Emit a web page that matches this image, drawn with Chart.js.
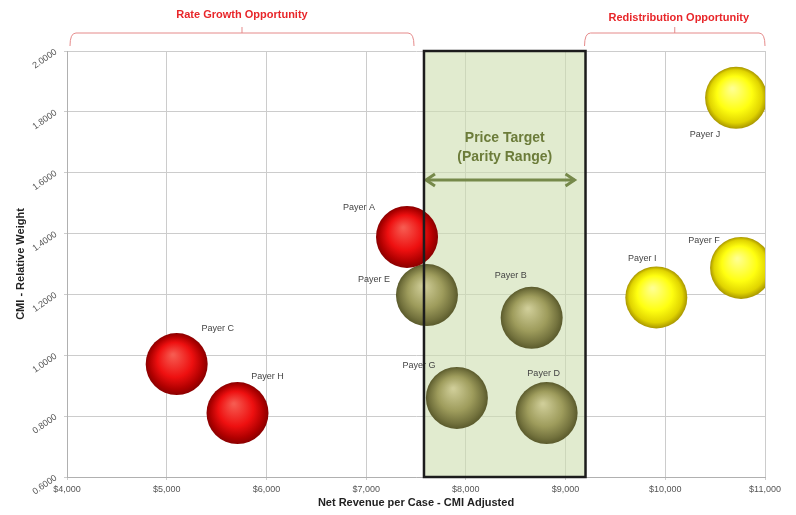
<!DOCTYPE html>
<html>
<head>
<meta charset="utf-8">
<script src="https://cdn.jsdelivr.net/npm/chart.js@4/dist/chart.umd.min.js"></script>
<style>
  html, body { margin: 0; padding: 0; background: #fff; }
  #wrap { width: 796px; height: 515px; }
</style>
</head>
<body>
<div id="wrap"><canvas id="myChart" width="796" height="515"></canvas></div>
<script>
// payers
const payers  = ['Payer A', 'Payer B', 'Payer C', 'Payer D', 'Payer E', 'Payer F', 'Payer G', 'Payer H', 'Payer I', 'Payer J'];
const revenue = [7410, 8660, 5100, 8810, 7610, 10760, 7910, 5710, 9910, 10710];
const cmi     = [1.389, 1.123, 0.971, 0.810, 1.198, 1.287, 0.860, 0.810, 1.190, 1.846];
const groups  = ['Rate Growth', 'Parity', 'Rate Growth', 'Parity', 'Parity', 'Redistribution', 'Parity', 'Rate Growth', 'Redistribution', 'Redistribution'];

// axis ranges
const xRange = [4000, 11000];
const yRange = [0.6, 2.0];

// annotation ranges (in data units)
const parityRange = [7580, 9200];
const parityArrow = [7580, 9090, 1.576];
const rateGrowthBrace = [4030, 7480];
const redistributionBrace = [9190, 11000];

// where each payer name sits relative to its bubble (pixels)
const labelOffsets = {
  'Payer A': [-48, -29], 'Payer B': [-21, -42], 'Payer C': [41, -36],
  'Payer D': [-3, -40],  'Payer E': [-53, -16], 'Payer F': [-37, -27],
  'Payer G': [-38, -32], 'Payer H': [30, -37],  'Payer I': [-14, -39],
  'Payer J': [-31, 37]
};

const BUBBLE_R = 31;
const FONT = '"Liberation Sans", Arial, sans-serif';

// highlight, body, shade, rim
const sphereColors = {
  'Rate Growth':    ['#f65a50', '#ee1010', '#b00000', '#8a0000'],
  'Parity':         ['#cfcd98', '#9e9c5c', '#74733e', '#5a5a2c'],
  'Redistribution': ['#ffff90', '#ffff10', '#e0d400', '#a89600']
};

function sphere(colors) {
  return function (ctx) {
    if (ctx.type !== 'data' || !ctx.parsed) return colors[1];
    const chart = ctx.chart;
    if (!chart.scales.x || !chart.scales.y) return colors[1];
    const x = chart.scales.x.getPixelForValue(ctx.parsed.x);
    const y = chart.scales.y.getPixelForValue(ctx.parsed.y);
    if (!isFinite(x) || !isFinite(y)) return colors[1];
    const r = BUBBLE_R;
    const g = chart.ctx.createRadialGradient(x - r * 0.12, y - r * 0.3, 1, x, y, r);
    g.addColorStop(0, colors[0]);
    g.addColorStop(0.55, colors[1]);
    g.addColorStop(0.85, colors[2]);
    g.addColorStop(1, colors[3]);
    return g;
  };
}

const datasets = [];
Object.keys(sphereColors).forEach(function (grp) {
  const pts = [];
  for (let i = 0; i < payers.length; i++) {
    if (groups[i] === grp) pts.push({ x: revenue[i], y: cmi[i], name: payers[i] });
  }
  datasets.push({
    label: grp,
    data: pts,
    radius: BUBBLE_R,
    borderWidth: 0,
    backgroundColor: sphere(sphereColors[grp]),
    clip: 0
  });
});

function drawBrace(ctx, x1, x2, y) {
  const mid = (x1 + x2) / 2;
  ctx.beginPath();
  ctx.moveTo(x1, y + 13);
  ctx.quadraticCurveTo(x1, y, x1 + 6, y);
  ctx.lineTo(x2 - 6, y);
  ctx.quadraticCurveTo(x2, y, x2, y + 13);
  ctx.moveTo(mid, y);
  ctx.lineTo(mid, y - 6);
  ctx.stroke();
}

function arrowHead(ctx, x, y, dir) {
  ctx.beginPath();
  ctx.moveTo(x + dir * 9, y - 6);
  ctx.lineTo(x, y);
  ctx.lineTo(x + dir * 9, y + 6);
  ctx.stroke();
}

const annotations = {
  id: 'annotations',
  beforeDatasetsDraw(chart) {
    const { ctx, chartArea, scales } = chart;
    const x1 = scales.x.getPixelForValue(parityRange[0]);
    const x2 = scales.x.getPixelForValue(parityRange[1]);
    ctx.save();
    ctx.fillStyle = 'rgba(205, 222, 175, 0.6)';
    ctx.fillRect(x1, chartArea.top, x2 - x1, chartArea.bottom - chartArea.top);

    // price target text + arrow
    const cx = (x1 + x2) / 2;
    ctx.fillStyle = '#6c7c3a';
    ctx.font = 'bold 14px ' + FONT;
    ctx.textAlign = 'center';
    ctx.textBaseline = 'middle';
    ctx.fillText('Price Target', cx, 138);
    ctx.fillText('(Parity Range)', cx, 157);
    const ay = scales.y.getPixelForValue(parityArrow[2]);
    const ax1 = scales.x.getPixelForValue(parityArrow[0]) + 2;
    const ax2 = scales.x.getPixelForValue(parityArrow[1]);
    ctx.strokeStyle = '#76894a';
    ctx.lineWidth = 3;
    ctx.beginPath();
    ctx.moveTo(ax1, ay);
    ctx.lineTo(ax2, ay);
    ctx.stroke();
    arrowHead(ctx, ax1, ay, 1);
    arrowHead(ctx, ax2, ay, -1);
    ctx.restore();
  },
  afterDatasetsDraw(chart) {
    const { ctx, chartArea, scales } = chart;
    ctx.save();
    // payer names
    ctx.font = '9px ' + FONT;
    ctx.fillStyle = '#444';
    ctx.textAlign = 'center';
    ctx.textBaseline = 'middle';
    chart.data.datasets.forEach(function (ds, di) {
      chart.getDatasetMeta(di).data.forEach(function (el, i) {
        const off = labelOffsets[ds.data[i].name];
        ctx.fillText(ds.data[i].name, el.x + off[0], el.y + off[1]);
      });
    });

    // parity box border
    const x1 = scales.x.getPixelForValue(parityRange[0]);
    const x2 = scales.x.getPixelForValue(parityRange[1]);
    ctx.strokeStyle = '#1c1c1c';
    ctx.lineWidth = 2.5;
    ctx.strokeRect(x1, chartArea.top, x2 - x1, chartArea.bottom - chartArea.top);

    // braces on top
    ctx.strokeStyle = '#e58a8a';
    ctx.lineWidth = 1;
    const b1 = rateGrowthBrace.map(v => scales.x.getPixelForValue(v));
    const b2 = redistributionBrace.map(v => scales.x.getPixelForValue(v));
    drawBrace(ctx, b1[0], b1[1], 33);
    drawBrace(ctx, b2[0], b2[1], 33);
    ctx.fillStyle = '#e8262a';
    ctx.font = 'bold 11px ' + FONT;
    ctx.fillText('Rate Growth Opportunity', (b1[0] + b1[1]) / 2, 15);
    ctx.fillText('Redistribution Opportunity', (b2[0] + b2[1]) / 2 + 4, 18);
    ctx.restore();
  }
};

const config = {
  type: 'bubble',
  data: { datasets: datasets },
  options: {
    responsive: false,
    animation: false,
    events: [],
    layout: { padding: { top: 51, right: 28, left: 0, bottom: 0 } },
    plugins: {
      legend: { display: false },
      tooltip: { enabled: false }
    },
    scales: {
      x: {
        type: 'linear',
        min: xRange[0],
        max: xRange[1],
        afterFit: s => { s.height = 38; },
        grid: { color: '#cccccc', tickLength: 3 },
        border: { color: '#b0b0b0' },
        ticks: {
          stepSize: 1000,
          color: '#555',
          font: { family: FONT, size: 9 },
          padding: 4,
          maxRotation: 0,
          callback: v => '$' + v.toLocaleString('en-US')
        },
        title: {
          display: true,
          text: 'Net Revenue per Case - CMI Adjusted',
          color: '#222',
          font: { family: FONT, size: 11, weight: 'bold' },
          padding: { top: 0, bottom: 5 }
        }
      },
      y: {
        type: 'linear',
        min: yRange[0],
        max: yRange[1],
        afterFit: s => { s.width = 67; },
        grid: { color: '#cccccc', tickLength: 3 },
        border: { color: '#b0b0b0' },
        ticks: {
          stepSize: 0.2,
          color: '#555',
          font: { family: FONT, size: 9 },
          padding: 8,
          minRotation: 35,
          maxRotation: 35,
          callback: v => v.toFixed(4)
        },
        title: {
          display: true,
          text: 'CMI - Relative Weight',
          color: '#222',
          font: { family: FONT, size: 11, weight: 'bold' },
          padding: { top: 14, bottom: 0 }
        }
      }
    }
  },
  plugins: [annotations]
};

const myChart = new Chart(document.getElementById('myChart'), config);
</script>
</body>
</html>
